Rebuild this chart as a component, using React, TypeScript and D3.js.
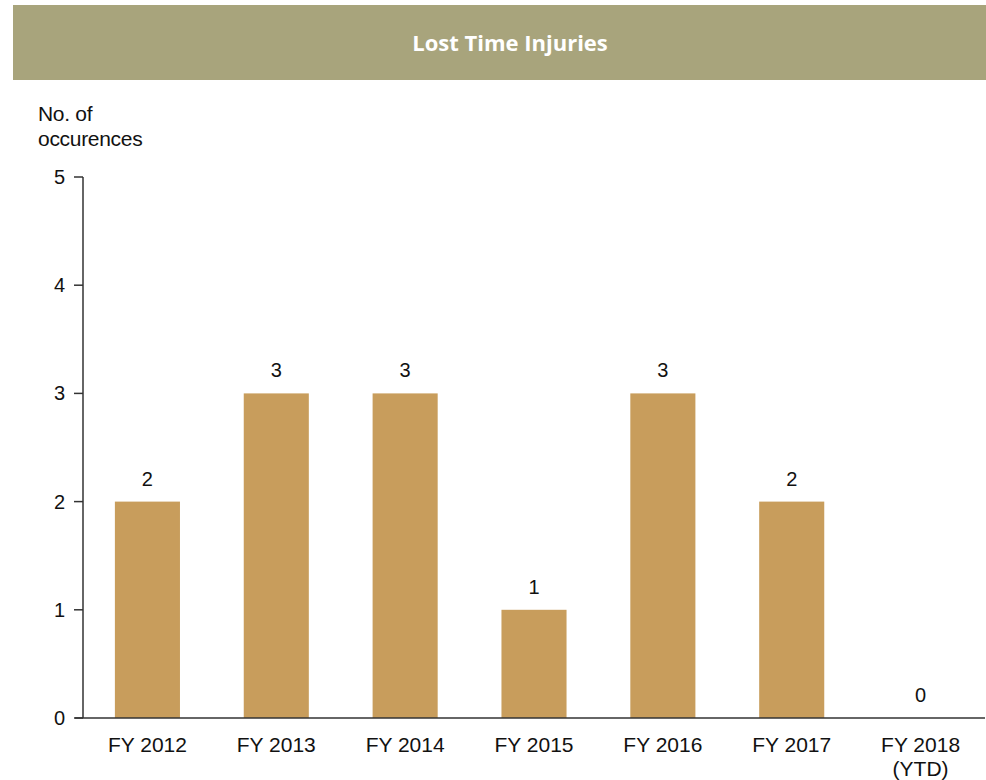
import React from "react";
import * as d3 from "d3";

const title = "Lost Time Injuries";
const yAxisLabel = ["No. of", "occurences"];
const categories = ["FY 2012", "FY 2013", "FY 2014", "FY 2015", "FY 2016", "FY 2017", "FY 2018\n(YTD)"];
const values = [2, 3, 3, 1, 3, 2, 0];
const yTicks = [0, 1, 2, 3, 4, 5];

const W = 986;
const H = 780;
const plot = { left: 83, right: 985, top: 177, bottom: 718 };
const FONT = "'Liberation Sans', Arial, sans-serif";
const TEXT = "#111";

export default function App() {
  const x = d3
    .scaleBand<string>()
    .domain(categories)
    .range([plot.left, plot.right])
    .paddingInner(0.495)
    .paddingOuter(0.2475);
  const y = d3.scaleLinear().domain([0, 5]).range([plot.bottom, plot.top]);

  return (
    <div style={{ position: "absolute", left: 0, top: 0 }}>
      <svg width={W} height={H} style={{ display: "block" }}>
        <rect x={0} y={0} width={W} height={H} fill="#fff" />
        <rect x={13} y={5} width={W - 13} height={75} fill="#a8a47c" />
        <text
          x={510}
          y={51}
          textAnchor="middle"
          fill="#fff"
          fontFamily="'Open Sans', sans-serif"
          fontWeight="bold"
          fontSize={22}
        >
          {title}
        </text>

        <text fontFamily={FONT} fontSize={21} fill={TEXT} letterSpacing={-0.3}>
          <tspan x={38} y={121}>{yAxisLabel[0]}</tspan>
          <tspan x={38} y={146}>{yAxisLabel[1]}</tspan>
        </text>

        {categories.map((c, i) => (
          <rect
            key={c}
            x={x(c)}
            y={y(values[i])}
            width={x.bandwidth()}
            height={y(0) - y(values[i])}
            fill="#c89d5c"
          />
        ))}

        {categories.map((c, i) => (
          <text
            key={"v" + c}
            x={(x(c) as number) + x.bandwidth() / 2}
            y={y(values[i]) - 16}
            textAnchor="middle"
            fontFamily={FONT}
            fontSize={20}
            fill={TEXT}
          >
            {values[i]}
          </text>
        ))}

        <line x1={plot.left} x2={plot.left} y1={y(5)} y2={y(0)} stroke="#333" strokeWidth={1.5} />
        <line x1={plot.left - 8} x2={plot.right} y1={y(0)} y2={y(0)} stroke="#333" strokeWidth={1.5} />
        {yTicks.map((t) => (
          <g key={t}>
            <line x1={plot.left - 9} x2={plot.left} y1={y(t)} y2={y(t)} stroke="#333" strokeWidth={1.5} />
            <text
              x={plot.left - 18}
              y={y(t) + 7}
              textAnchor="end"
              fontFamily={FONT}
              fontSize={20}
              fill={TEXT}
            >
              {t}
            </text>
          </g>
        ))}

        {categories.map((c) => (
          <text
            key={"x" + c}
            textAnchor="middle"
            fontFamily={FONT}
            fontSize={21}
            fill={TEXT}
          >
            {c.split("\n").map((line, j) => (
              <tspan key={j} x={(x(c) as number) + x.bandwidth() / 2} y={752 + j * 24}>
                {line}
              </tspan>
            ))}
          </text>
        ))}
      </svg>
    </div>
  );
}
